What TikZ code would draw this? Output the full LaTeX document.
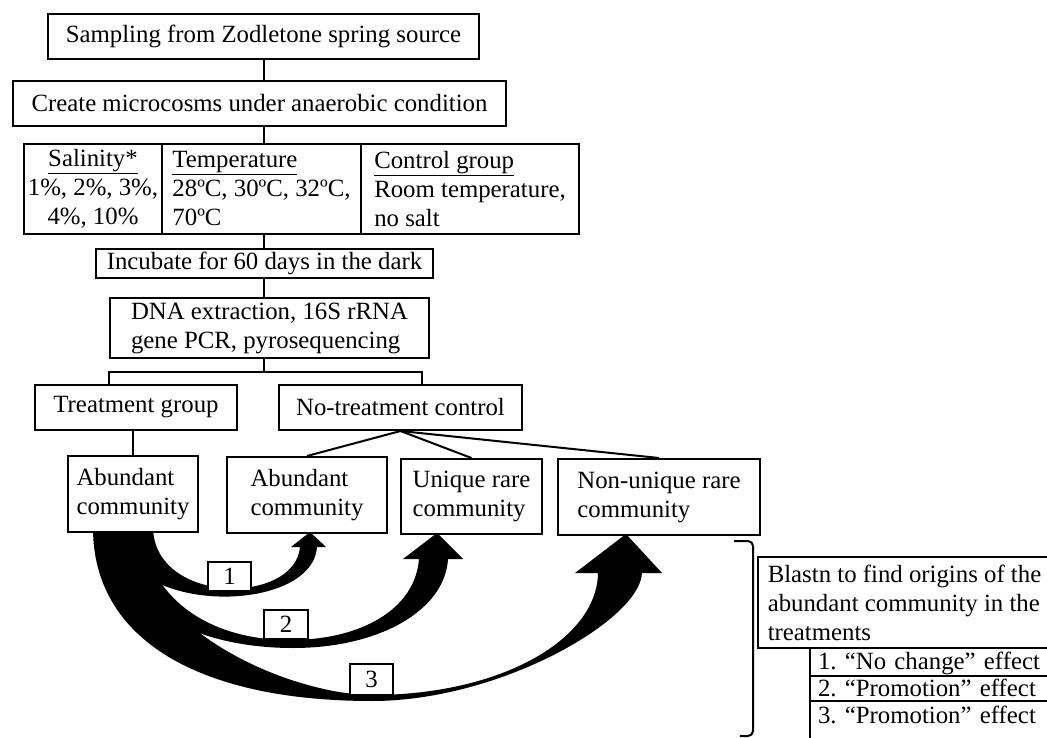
\documentclass[tikz,border=0pt]{standalone}
\usepackage{fontspec}
\setmainfont{Liberation Serif}
\frenchspacing
\begin{document}
\begin{tikzpicture}[x=1pt, y=-1pt, font=\fontsize{24.8}{29}\selectfont,
  box/.style={draw, line width=2pt, fill=white, anchor=north west, inner sep=0pt},
  effect/.style={box, text width=240pt, align=left, inner xsep=8pt},
  link/.style={line width=2.8pt}]

\def\thin{2pt}

\useasboundingbox (0,0) rectangle (1047,738);

\fill (118,528) .. controls (118,616) and (312,616) .. (317,547)
  -- (326,547) -- (310,532) -- (291,547) -- (300,547)
  .. controls (295,605) and (155,605) .. (153,528) -- cycle;

\fill (105,528) .. controls (115,610) and (200,648) .. (293,648)
  .. controls (380,648) and (445,610) .. (448,559)
  -- (463,559) -- (437,533) -- (403,559) -- (419,559)
  .. controls (415,610) and (360,640) .. (290,640)
  .. controls (210,640) and (150,600) .. (140,528) -- cycle;

\fill (93,528) .. controls (93,640) and (200,701) .. (372,701)
  .. controls (500,701) and (640,620) .. (642,573)
  -- (662,573) -- (626,534) -- (575,573) -- (598,573)
  .. controls (597,640) and (500,695) .. (372,695)
  .. controls (300,695) and (150,640) .. (128,528) -- cycle;

\node[box, minimum width=431pt, minimum height=45pt] (samp) at (47,13) {Sampling from Zodletone spring source};
\node[box, minimum width=493pt, minimum height=45pt] (crea) at (12,80) {Create microcosms under anaerobic condition};

\node[box, minimum width=138pt, minimum height=90pt, align=center] (sal) at (23,143)
  {\underline{Salinity*}\\1\%, 2\%, 3\%,\\4\%, 10\%};
\node[box, minimum width=199pt, minimum height=90pt, align=left] (temp) at (161,143)
  {\underline{Temperature}\\28ºC, 30ºC, 32ºC,\\70ºC};
\node[box, minimum width=218pt, minimum height=90pt, align=left] (ctrl) at (360,143)
  {\underline{Control group}\\Room temperature,\\no salt};

\node[box, minimum width=337pt, minimum height=29pt] (incu) at (95,248) {Incubate for 60 days in the dark};
\node[box, minimum width=319pt, minimum height=60pt, align=left] (dna) at (109,297)
  {DNA extraction, 16S rRNA\\gene PCR, pyrosequencing};

\node[box, minimum width=202pt, minimum height=45pt] (treat) at (34,384) {Treatment group};
\node[box, minimum width=243pt, minimum height=45pt] (notr) at (278,384) {No-treatment control};

\node[box, minimum width=130pt, minimum height=76pt, align=left] (abl) at (67,455) {Abundant\\community};
\node[box, minimum width=160pt, minimum height=76pt, align=left] (abr) at (226,456) {Abundant\\community};
\node[box, minimum width=141pt, minimum height=75pt, align=left] (uniq) at (400,458) {Unique rare\\community};
\node[box, minimum width=202pt, minimum height=76pt, align=left] (nonu) at (557,458) {Non-unique rare\\community};

\node[box, minimum width=43pt, minimum height=29pt] (lab1) at (207,561) {1};
\node[box, minimum width=44pt, minimum height=29pt] (lab2) at (263,609) {2};
\node[box, minimum width=43pt, minimum height=31pt] (lab3) at (349,663) {3};

\node[box, minimum width=293pt, minimum height=91pt, align=left] (blast) at (757,556)
  {Blastn to find origins of the\\abundant community in the\\treatments};
\node[effect, text height=21pt, text depth=7pt] (eff1) at (809,647) {1. “No change” effect};
\node[effect, text height=20pt, text depth=5pt] (eff2) at (809,675) {2. “Promotion” effect};
\node[effect, text height=22pt, text depth=18pt] (eff3) at (809,700) {3. “Promotion” effect};

\coordinate (spine) at (264,0);
\coordinate (forkl) at (109,372);
\coordinate (forkr) at (422,372);

\draw[link] (samp.south -| spine) -- (crea.north -| spine);
\draw[link] (crea.south -| spine) -- (temp.north -| spine);
\draw[link] (temp.south -| spine) -- (incu.north -| spine);
\draw[link] (incu.south -| spine) -- (dna.north -| spine);
\draw[link] (dna.south -| spine) -- (forkl -| spine);
\draw[link] (treat.north -| forkl) -- (forkl) -- (forkr) -- (notr.north -| forkr);
\draw[link] (treat.south -| abl.north) -- (abl.north);
\draw[line width=\thin] (notr.south) -- (abr.north);
\draw[line width=\thin] (notr.south) -- (uniq.north);
\draw[line width=\thin] (notr.south) -- (nonu.north);

\draw[line width=\thin, rounded corners=5pt] (734,541) -- (753,541) -- (753,736) -- (740,736);

\end{tikzpicture}
\end{document}
